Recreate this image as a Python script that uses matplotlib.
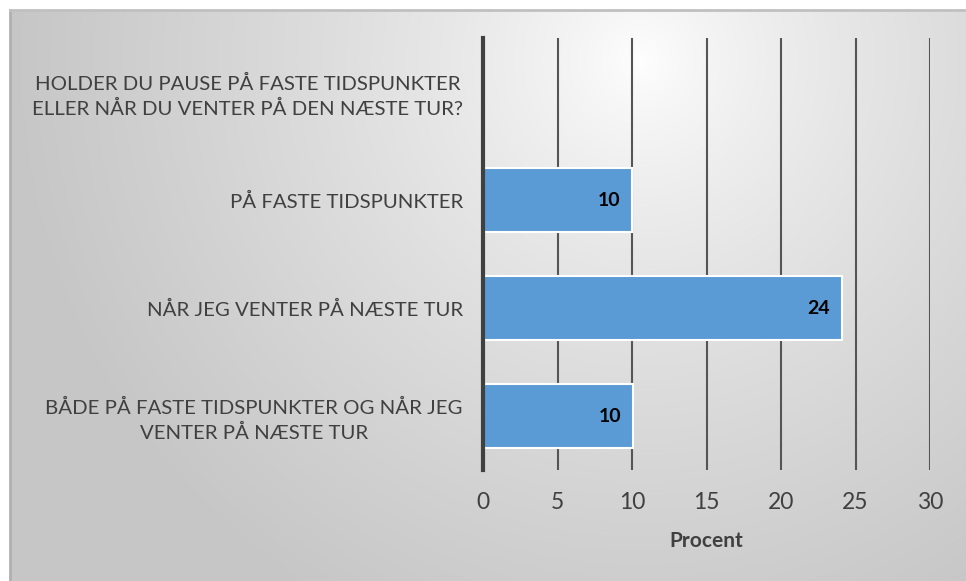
import numpy as np
import matplotlib
matplotlib.use("Agg")
import matplotlib.pyplot as plt

plt.rcParams['font.family'] = ['Lato', 'DejaVu Sans']

categories = [
    "HOLDER DU PAUSE PÅ FASTE TIDSPUNKTER\nELLER NÅR DU VENTER PÅ DEN NÆSTE TUR?",
    "PÅ FASTE TIDSPUNKTER",
    "NÅR JEG VENTER PÅ NÆSTE TUR",
    "BÅDE PÅ FASTE TIDSPUNKTER OG NÅR JEG\nVENTER PÅ NÆSTE TUR",
]
values = [np.nan, 10.0, 24.1, 10.1]
xticks = [0, 5, 10, 15, 20, 25, 30]
xlabel = "Procent"

W, H = 966, 581
fig = plt.figure(figsize=(W / 100, H / 100), dpi=100)
fig.patch.set_facecolor('white')

# background panel with radial gradient
x0, y0 = 10, 10  # pixels from left / top
bg = fig.add_axes([x0 / W, 0, (W - x0) / W, (H - y0) / H])
bg.set_axis_off()
nx, ny = W - x0, H - y0
xx, yy = np.meshgrid(np.arange(nx) + x0, np.arange(ny) + y0)
cx, cy = 640, 60
d = np.sqrt((xx - cx) ** 2 + (yy - cy) ** 2)
t = np.clip(d / 620, 0, 1) ** 0.75
v = 1.0 - 0.22 * t
img = np.dstack([v, v, v])
bg.imshow(img, aspect='auto', extent=[0, 1, 0, 1], origin='upper')
bg.set_xlim(0, 1)
bg.set_ylim(0, 1)
bg.plot([0, 0], [0, 1], color='#b0b0b0', lw=2, transform=bg.transAxes, clip_on=False)
bg.plot([0, 1], [1, 1], color='#c0c0c0', lw=2, transform=bg.transAxes, clip_on=False)

# main plot axes
left, right = 483, 930
top, bottom = 38, 470
ax = fig.add_axes([left / W, 1 - bottom / H, (right - left) / W, (bottom - top) / H])
ax.patch.set_alpha(0)

ypos = np.arange(len(categories))
ax.barh(ypos, values, height=0.6, color='#5b9bd5', edgecolor='white', linewidth=1.5, zorder=3)
for y, v_ in zip(ypos, values):
    if not np.isnan(v_):
        ax.text(v_ - 0.8, y, f"{v_:.0f}", ha='right', va='center', fontsize=14,
                fontweight='bold', color='black', zorder=4)

ax.set_ylim(len(categories) - 0.5, -0.5)
ax.set_xlim(0, 30)
ax.set_xticks(xticks)
ax.set_xticklabels([str(t_) for t_ in xticks])
ax.set_yticks(ypos)
ax.set_yticklabels(categories, multialignment='center', linespacing=1.45)
ax.tick_params(axis='y', length=0, pad=14.5, labelsize=14.7, labelcolor='#404040')
ax.tick_params(axis='x', length=0, pad=15.5, labelsize=16.5, labelcolor='#404040')
ax.grid(axis='x', color='#555555', linewidth=1.5, zorder=1)
ax.set_axisbelow(True)
for s in ['top', 'right', 'bottom']:
    ax.spines[s].set_visible(False)
ax.spines['left'].set_color('#404040')
ax.spines['left'].set_linewidth(3)
ax.spines['left'].set_zorder(5)
ax.set_xlabel(xlabel, fontsize=15, fontweight='bold', color='#404040', labelpad=13)

fig.savefig('out.png', dpi=100)
